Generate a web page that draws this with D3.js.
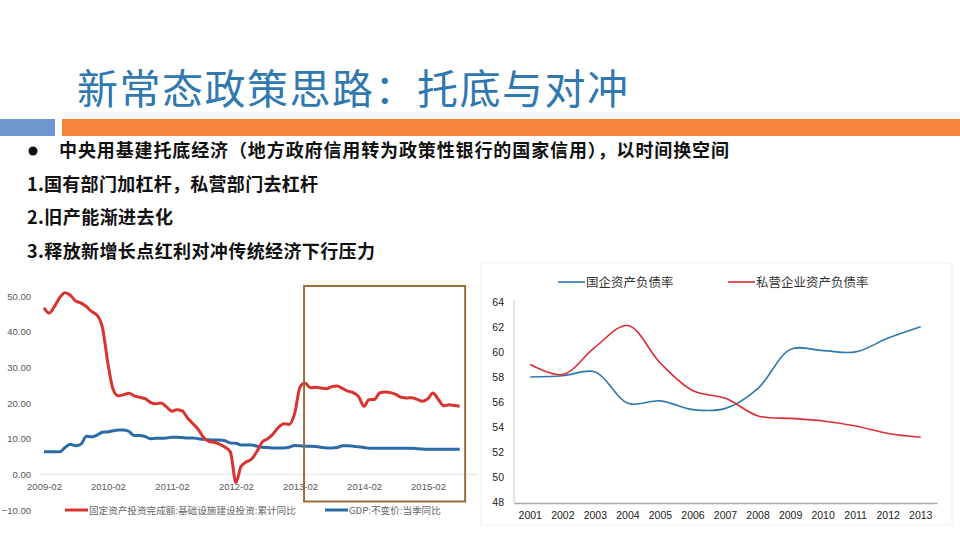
<!DOCTYPE html>
<html>
<head>
<meta charset="utf-8">
<script src="https://cdn.jsdelivr.net/npm/d3@7"></script>
<style>
  body { margin: 0; background: #fff; }
  svg { display: block; font-family: "Noto Sans CJK SC", "Noto Sans", sans-serif; }
</style>
</head>
<body>
<div id="slide"></div>
<script>
// ---- Left chart data: monthly, 2009-02 .. 2015-08 ----
const invMonths = [
  "2009-02","2009-03","2009-04","2009-05","2009-06","2009-07","2009-08","2009-09","2009-10","2009-11","2009-12","2010-01",
  "2010-02","2010-03","2010-04","2010-05","2010-06","2010-07","2010-08","2010-09","2010-10","2010-11","2010-12","2011-01",
  "2011-02","2011-03","2011-04","2011-05","2011-06","2011-07","2011-08","2011-09","2011-10","2011-11","2011-12","2012-01",
  "2012-02","2012-03","2012-04","2012-05","2012-06","2012-07","2012-08","2012-09","2012-10","2012-11","2012-12","2013-01",
  "2013-02","2013-03","2013-04","2013-05","2013-06","2013-07","2013-08","2013-09","2013-10","2013-11","2013-12","2014-01",
  "2014-02","2014-03","2014-04","2014-05","2014-06","2014-07","2014-08","2014-09","2014-10","2014-11","2014-12","2015-01",
  "2015-02","2015-03","2015-04","2015-05","2015-06","2015-07","2015-08"
];

// 固定资产投资完成额:基础设施建设投资:累计同比
const infraValues = [
  46.7,45.2,47,49.5,50.9,50.2,48.6,48,47,45.6,44.6,41,
  31,24,22,22.3,22.7,22,21.6,21.2,20.2,19.8,20,18.9,
  17.7,18.1,17.8,15.8,14.2,12.6,10.3,9.2,9.0,8.4,7.6,6.2,
  -2.3,2.2,3.5,4.3,6.5,9.1,10,11.4,13.2,14.2,14,17,
  24.5,25.6,24.3,24.4,24.2,24,24.6,24.8,24.1,23.3,22.9,21.8,
  19.1,20.9,21,22.8,23.1,22.9,22.4,21.6,21.4,21.5,21,20.5,
  21.2,22.8,21,19.2,19.5,19.3,19.1
];

// GDP:不变价:当季同比
const gdpValues = [
  6.3,6.3,6.3,6.3,7.5,8.4,8,8.5,10.7,10.5,11,11.8,
  11.9,12.2,12.4,12.4,12,10.9,10.9,10.6,10,10.1,10.1,10.2,
  10.4,10.4,10.3,10.2,10.2,10,9.8,9.7,9.6,9.6,9.4,8.8,
  8.7,8.2,8.2,8.2,7.9,7.6,7.5,7.4,7.4,7.4,7.6,8.1,
  8,7.9,7.9,7.8,7.6,7.4,7.4,7.5,8,8,7.9,7.7,
  7.5,7.3,7.3,7.3,7.3,7.3,7.3,7.3,7.3,7.3,7.2,7.1,
  7.0,7.0,7.0,7.0,7.0,7.0,7.0
];

const invTicks = ["2009-02","2010-02","2011-02","2012-02","2013-02","2014-02","2015-02"];
const invYTicks = [-10, 0, 10, 20, 30, 40, 50];
const highlight = ["2013-02", "2015-09"];   // framed period

// ---- Right chart data: yearly ----
const years = ["2001","2002","2003","2004","2005","2006","2007","2008","2009","2010","2011","2012","2013"];
const soeDebt = [58.0,58.1,58.4,55.9,56.1,55.4,55.5,57.1,60.2,60.1,60.0,61.1,62.0];
const privDebt = [59.0,58.2,60.4,62.1,59.1,56.9,56.3,54.9,54.7,54.5,54.1,53.5,53.2];
const debtYTicks = [48, 50, 52, 54, 56, 58, 60, 62, 64];

// ---- Slide text ----
const title = "新常态政策思路：托底与对冲";
const bulletText = "中央用基建托底经济（地方政府信用转为政策性银行的国家信用），以时间换空间";
const points = ["1.国有部门加杠杆，私营部门去杠杆", "2.旧产能渐进去化", "3.释放新增长点红利对冲传统经济下行压力"];

const parseMonth = d3.timeParse("%Y-%m");

const svg = d3.select("#slide")
  .append("svg")
  .attr("width", 960)
  .attr("height", 540);

/*
 * Header: title, bars, bullet text
 */
svg.append("text")
  .attr("x", 77)
  .attr("y", 104)
  .attr("textLength", 551)
  .attr("lengthAdjust", "spacing")
  .style("font-size", "41px")
  .style("fill", "#2f78b0")
  .text(title);

svg.append("rect").attr("x", 0).attr("y", 119).attr("width", 55).attr("height", 17).attr("fill", "#7096d2");
svg.append("rect").attr("x", 62).attr("y", 119).attr("width", 898).attr("height", 17).attr("fill", "#f5853b");

svg.append("circle").attr("cx", 33).attr("cy", 151).attr("r", 4.5).attr("fill", "#111");

svg.append("text")
  .attr("x", 59)
  .attr("y", 157)
  .attr("textLength", 670)
  .attr("lengthAdjust", "spacing")
  .style("font-size", "18px")
  .style("font-weight", "bold")
  .style("fill", "#111")
  .text(bulletText);

const pointWidths = [291, 146, 348];
svg.selectAll(".point")
  .data(points)
  .enter()
  .append("text")
  .attr("class", "point")
  .attr("x", 27)
  .attr("y", (d, i) => [191, 224, 258][i])
  .attr("textLength", (d, i) => pointWidths[i])
  .attr("lengthAdjust", "spacing")
  .style("font-size", "18px")
  .style("font-weight", "bold")
  .style("fill", "#111")
  .text(d => d);

/*
 * Left chart: infrastructure investment vs GDP
 */
const infraData = invMonths.map((m, i) => ({ date: parseMonth(m), value: infraValues[i] }));
const gdpData = invMonths.map((m, i) => ({ date: parseMonth(m), value: gdpValues[i] }));

const xL = d3.scaleTime()
  .domain([parseMonth("2009-02"), parseMonth("2015-02")])
  .range([44, 428]);

const yL = d3.scaleLinear()
  .domain([-10, 50])
  .range([510, 296]);

const left = svg.append("g").attr("class", "left-chart");

// zero line
left.append("line")
  .attr("x1", 40).attr("x2", 478)
  .attr("y1", yL(0)).attr("y2", yL(0))
  .attr("stroke", "#e3e3e3")
  .attr("stroke-width", 1);

// y axis labels
left.append("g")
  .attr("transform", "translate(31,0)")
  .call(d3.axisLeft(yL).tickValues(invYTicks).tickFormat(d3.format(".2f")).tickSize(0).tickPadding(0))
  .call(g => g.select(".domain").remove())
  .selectAll("text")
  .style("font-size", "9.5px")
  .style("font-family", "Liberation Sans, Arial, sans-serif")
  .style("fill", "#595959");

// x axis labels
left.append("g")
  .attr("transform", "translate(0," + yL(0) + ")")
  .call(d3.axisBottom(xL).tickValues(invTicks.map(parseMonth)).tickFormat(d3.timeFormat("%Y-%m")).tickSize(0).tickPadding(9))
  .call(g => g.select(".domain").remove())
  .selectAll("text")
  .style("font-size", "9.5px")
  .style("font-family", "Liberation Sans, Arial, sans-serif")
  .style("fill", "#595959");

const lineL = d3.line()
  .curve(d3.curveMonotoneX)
  .x(d => xL(d.date))
  .y(d => yL(d.value));

left.append("path")
  .datum(gdpData)
  .attr("d", lineL)
  .attr("fill", "none")
  .attr("stroke", "#2a6aa6")
  .attr("stroke-width", 3);

left.append("path")
  .datum(infraData)
  .attr("d", lineL)
  .attr("fill", "none")
  .attr("stroke", "#d8332f")
  .attr("stroke-width", 3);

// highlight frame
left.append("rect")
  .attr("x", xL(parseMonth(highlight[0])) + 4)
  .attr("y", 286)
  .attr("width", xL(parseMonth(highlight[1])) - xL(parseMonth(highlight[0])) - 4)
  .attr("height", 215.5)
  .attr("fill", "none")
  .attr("stroke", "#9a6d3f")
  .attr("stroke-width", 2);

// legend
const legL = left.append("g").attr("class", "legend");
const legItems = [
  { label: "固定资产投资完成额:基础设施建设投资:累计同比", color: "#d8332f", x: 65 },
  { label: "GDP:不变价:当季同比", color: "#2a6aa6", x: 325 }
];
legItems.forEach(function (d) {
  legL.append("line")
    .attr("x1", d.x).attr("x2", d.x + 23)
    .attr("y1", 510).attr("y2", 510)
    .attr("stroke", d.color)
    .attr("stroke-width", 3);
  legL.append("text")
    .attr("x", d.x + 24)
    .attr("y", 514)
    .style("font-size", "9.6px")
    .style("fill", "#666")
    .text(d.label);
});

/*
 * Right chart: debt ratio of SOEs vs private enterprises
 */
const right = svg.append("g").attr("class", "right-chart");

right.append("rect")
  .attr("x", 481).attr("y", 263)
  .attr("width", 471).attr("height", 262)
  .attr("fill", "#fff")
  .attr("stroke", "#efefef")
  .attr("stroke-width", 1);

const xR = d3.scaleBand()
  .domain(years)
  .range([514, 937]);

const yR = d3.scaleLinear()
  .domain([48, 64])
  .range([502.5, 301.7]);

// y axis
right.append("g")
  .attr("transform", "translate(514,0)")
  .call(d3.axisLeft(yR).tickValues(debtYTicks).tickSize(0).tickPadding(10))
  .call(g => g.select(".domain").attr("stroke", "#c8c8c8").attr("d", "M0,300V503"))
  .selectAll("text")
  .style("font-size", "10.5px")
  .style("font-family", "Liberation Sans, Arial, sans-serif")
  .style("fill", "#222");

// x axis
right.append("g")
  .attr("transform", "translate(0,503)")
  .call(d3.axisBottom(xR).tickSize(0).tickPadding(9))
  .call(g => g.select(".domain").attr("stroke", "#a8a8a8").attr("stroke-width", 1.5))
  .selectAll("text")
  .style("font-size", "10.5px")
  .style("font-family", "Liberation Sans, Arial, sans-serif")
  .style("fill", "#222");

const lineR = d3.line()
  .curve(d3.curveCatmullRom.alpha(0.5))
  .x((d, i) => xR(years[i]) + xR.bandwidth() / 2)
  .y(d => yR(d));

right.append("path")
  .datum(soeDebt)
  .attr("d", lineR)
  .attr("fill", "none")
  .attr("stroke", "#2f78ad")
  .attr("stroke-width", 1.6);

right.append("path")
  .datum(privDebt)
  .attr("d", lineR)
  .attr("fill", "none")
  .attr("stroke", "#de2d35")
  .attr("stroke-width", 1.6);

// legend
const legR = right.append("g").attr("class", "legend");
[
  { label: "国企资产负债率", color: "#2f78ad", x: 558 },
  { label: "私营企业资产负债率", color: "#de2d35", x: 728 }
].forEach(function (d) {
  legR.append("line")
    .attr("x1", d.x).attr("x2", d.x + 27)
    .attr("y1", 282).attr("y2", 282)
    .attr("stroke", d.color)
    .attr("stroke-width", 1.6);
  legR.append("text")
    .attr("x", d.x + 28)
    .attr("y", 286.5)
    .style("font-size", "12.5px")
    .style("fill", "#333")
    .text(d.label);
});
</script>
</body>
</html>
